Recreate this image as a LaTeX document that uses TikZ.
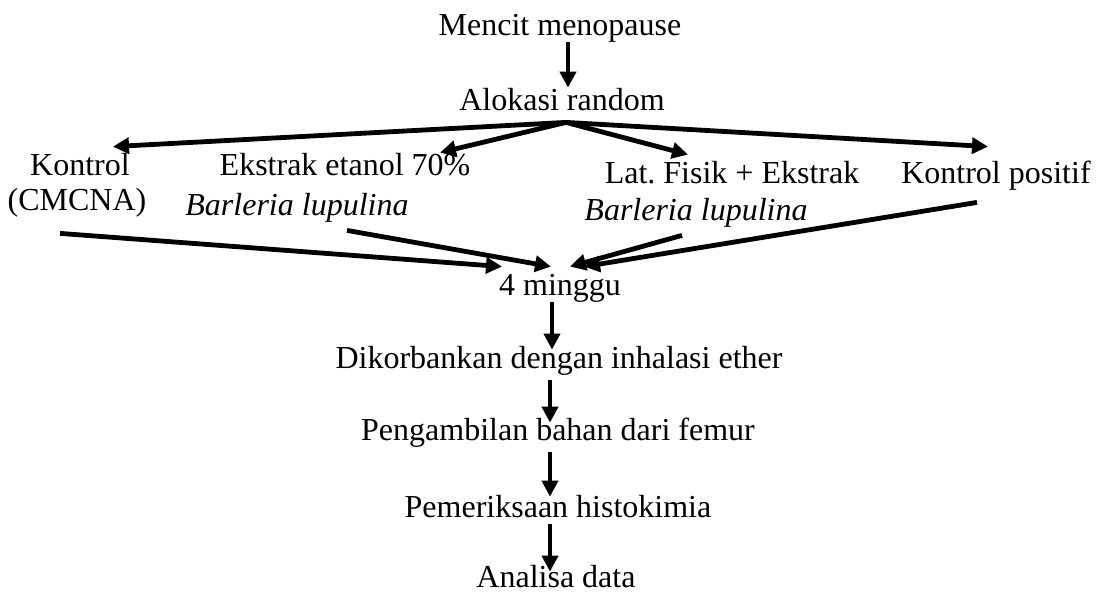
\documentclass[tikz,border=0pt]{standalone}
\usepackage{fontspec}
\setmainfont{Liberation Serif}
\usepackage{tikz}
\usetikzlibrary{arrows.meta, positioning}

\tikzset{
  lbl/.style={anchor=base, inner sep=0pt, text height=11pt, text depth=3.5pt, font=\fontsize{16}{18}\selectfont},
  arr/.style={line width=2.4pt, -{Triangle[length=8pt,width=8pt]}}
}

\begin{document}
\begin{tikzpicture}[x=0.5pt, y=-0.5pt]
  \useasboundingbox (0,0) rectangle (1100,595);

  %% top
  \node[lbl] (mencit) at (560,35) {Mencit menopause};
  \node[lbl] (alokasi) at (562,110) {Alokasi random};
  \coordinate (fan) at ([xshift=2pt,yshift=-2.5pt]alokasi.south);

  %% groups
  \node[lbl] (kontrol) at (80,175) {Kontrol};
  \node[lbl] (cmcna) at (77,210) {(CMCNA)};
  \node[lbl] (ekstrak) at (345,175) {Ekstrak etanol 70\%};
  \node[lbl, font=\fontsize{16}{18}\selectfont\itshape] (barleriaA) at (297,215) {Barleria lupulina};
  \node[lbl] (latfisik) at (732,183) {Lat.\ Fisik + Ekstrak};
  \node[lbl, font=\fontsize{16}{18}\selectfont\itshape] (barleriaB) at (696,220) {Barleria lupulina};
  \node[lbl] (positif) at (996,183) {Kontrol positif};

  %% chain
  \node[lbl] (minggu) at (560,295) {4 minggu};
  \node[lbl] (dikor) at (559,368) {Dikorbankan dengan inhalasi ether};
  \node[lbl] (ambil) at (558,440) {Pengambilan bahan dari femur};
  \node[lbl] (periksa) at (558,517) {Pemeriksaan histokimia};
  \node[lbl] (analisa) at (556,587) {Analisa data};

  %% arrows
  \draw[arr] ([xshift=4pt]mencit.south) -- ([xshift=3pt]alokasi.north);
  \draw[arr] (fan) -- ([xshift=16.5pt,yshift=3pt]kontrol.north);
  \draw[arr] (fan) -- ([xshift=47.5pt]ekstrak.north);
  \draw[arr] (fan) -- ([xshift=-22pt,yshift=3pt]latfisik.north);
  \draw[arr] (fan) -- ([xshift=-4pt,yshift=7pt]positif.north);

  \draw[arr] ([xshift=-8.5pt,yshift=-8pt]cmcna.south) -- ([xshift=-29pt,yshift=3pt]minggu.north);
  \draw[arr] ([xshift=25pt,yshift=-4pt]barleriaA.south) -- ([xshift=-4.5pt,yshift=3pt]minggu.north);
  \draw[arr] ([xshift=-7pt,yshift=-4pt]barleriaB.south) -- ([xshift=5pt,yshift=3pt]minggu.north);
  \draw[arr] ([xshift=-9.5pt,yshift=-6pt]positif.south) -- ([xshift=12pt,yshift=3pt]minggu.north);

  \draw[arr] ([xshift=-4pt]minggu.south) -- ([xshift=-3.5pt,yshift=-2pt]dikor.north);
  \draw[arr] ([xshift=-4.5pt,yshift=-2.5pt]dikor.south) -- ([xshift=-4pt,yshift=-2.5pt]ambil.north);
  \draw[arr] ([xshift=-4pt,yshift=-2.5pt]ambil.south) -- ([xshift=-4pt,yshift=-1pt]periksa.north);
  \draw[arr] ([xshift=-4pt]periksa.south) -- ([xshift=-3pt,yshift=-3.5pt]analisa.north);
\end{tikzpicture}
\end{document}
